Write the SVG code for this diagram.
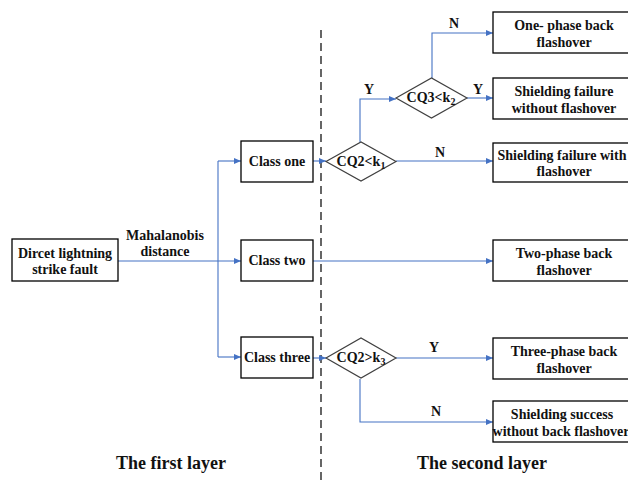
<svg xmlns="http://www.w3.org/2000/svg" width="628" height="484" viewBox="0 0 628 484">
<style>
.box{fill:#fff;stroke:#000;stroke-width:1.3}
.dia{fill:#fff;stroke:#404040;stroke-width:1.2}
.t{font-family:"Liberation Serif","Times New Roman",serif;font-weight:bold;font-size:14px;fill:#111;text-anchor:middle}
.lb{font-family:"Liberation Serif","Times New Roman",serif;font-weight:bold;font-size:14px;fill:#111;text-anchor:middle}
.big{font-family:"Liberation Serif","Times New Roman",serif;font-weight:bold;font-size:18px;fill:#111;text-anchor:middle}
.c{fill:none;stroke:#4472C4;stroke-width:1.1}
</style>
<defs>
<marker id="a" markerWidth="7" markerHeight="6" refX="7" refY="3" orient="auto" markerUnits="userSpaceOnUse">
<path d="M0,0 L7,3 L0,6 z" fill="#4472C4"/>
</marker>
</defs>
<rect width="628" height="484" fill="#fff"/>
<line x1="321" y1="30" x2="321" y2="482" stroke="#000" stroke-width="1.2" stroke-dasharray="8,5"/>
<g id="connectors">
<path class="c" d="M118,261 H241" marker-end="url(#a)"/>
<path class="c" d="M218,161 V357"/>
<path class="c" d="M218,161 H241" marker-end="url(#a)"/>
<path class="c" d="M218,357 H241" marker-end="url(#a)"/>
<path class="c" d="M313,161 H326" marker-end="url(#a)"/>
<path class="c" d="M313,358 H326" marker-end="url(#a)"/>
<path class="c" d="M313,261 H493" marker-end="url(#a)"/>
<path class="c" d="M360,142 V99 H396" marker-end="url(#a)"/>
<path class="c" d="M432,78 V33 H493" marker-end="url(#a)"/>
<path class="c" d="M467,98 H493" marker-end="url(#a)"/>
<path class="c" d="M396,161 H493" marker-end="url(#a)"/>
<path class="c" d="M396,358 H493" marker-end="url(#a)"/>
<path class="c" d="M360,379 V422 H493" marker-end="url(#a)"/>
<text class="lb" x="165" y="240">Mahalanobis</text>
<text class="lb" x="165" y="256">distance</text>
<text class="lb" x="369" y="94">Y</text>
<text class="lb" x="454" y="28">N</text>
<text class="lb" x="478" y="94">Y</text>
<text class="lb" x="440" y="157">N</text>
<text class="lb" x="434" y="352">Y</text>
<text class="lb" x="436" y="416">N</text>
</g>
<g id="n-direct"><rect class="box" x="12" y="239" width="106" height="42"/><text class="t" x="65" y="258">Dircet lightning</text><text class="t" x="65" y="274">strike fault</text></g>
<g id="n-class1"><rect class="box" x="241" y="141" width="72" height="41"/><text class="t" x="277" y="166">Class one</text></g>
<g id="n-class2"><rect class="box" x="241" y="240" width="72" height="41"/><text class="t" x="277" y="265">Class two</text></g>
<g id="n-class3"><rect class="box" x="241" y="337" width="72" height="41"/><text class="t" x="277" y="362">Class three</text></g>
<g id="n-d1"><polygon class="dia" points="326,161.5 361,142 396,161.5 361,181"/><text class="t" x="361" y="166">CQ2&lt;k<tspan font-size="10" dy="3">1</tspan></text></g>
<g id="n-d2"><polygon class="dia" points="396,98 431.5,78 467,98 431.5,118"/><text class="t" x="431" y="102">CQ3&lt;k<tspan font-size="10" dy="3">2</tspan></text></g>
<g id="n-d3"><polygon class="dia" points="326,358 361,338 396,358 361,378"/><text class="t" x="361" y="362">CQ2&gt;k<tspan font-size="10" dy="3">3</tspan></text></g>
<g id="n-one"><rect class="box" x="493" y="12" width="142" height="41"/><text class="t" x="564" y="30">One- phase back</text><text class="t" x="564" y="47">flashover</text></g>
<g id="n-sfwo"><rect class="box" x="493" y="78" width="142" height="41"/><text class="t" x="564" y="96">Shielding failure</text><text class="t" x="564" y="113">without flashover</text></g>
<g id="n-sfw"><rect class="box" x="493" y="143" width="142" height="39"/><text class="t" x="562" y="160">Shielding failure with</text><text class="t" x="564" y="176">flashover</text></g>
<g id="n-two"><rect class="box" x="493" y="240" width="142" height="41"/><text class="t" x="564" y="258">Two-phase back</text><text class="t" x="564" y="275">flashover</text></g>
<g id="n-three"><rect class="box" x="493" y="338" width="142" height="41"/><text class="t" x="564" y="356">Three-phase back</text><text class="t" x="564" y="373">flashover</text></g>
<g id="n-ss"><rect class="box" x="493" y="401" width="142" height="41"/><text class="t" x="562" y="419">Shielding success</text><text class="t" x="561" y="436" font-size="12.8">without back flashover</text></g>
<text class="big" x="171" y="469">The first layer</text>
<text class="big" x="482" y="469">The second layer</text>
</svg>
